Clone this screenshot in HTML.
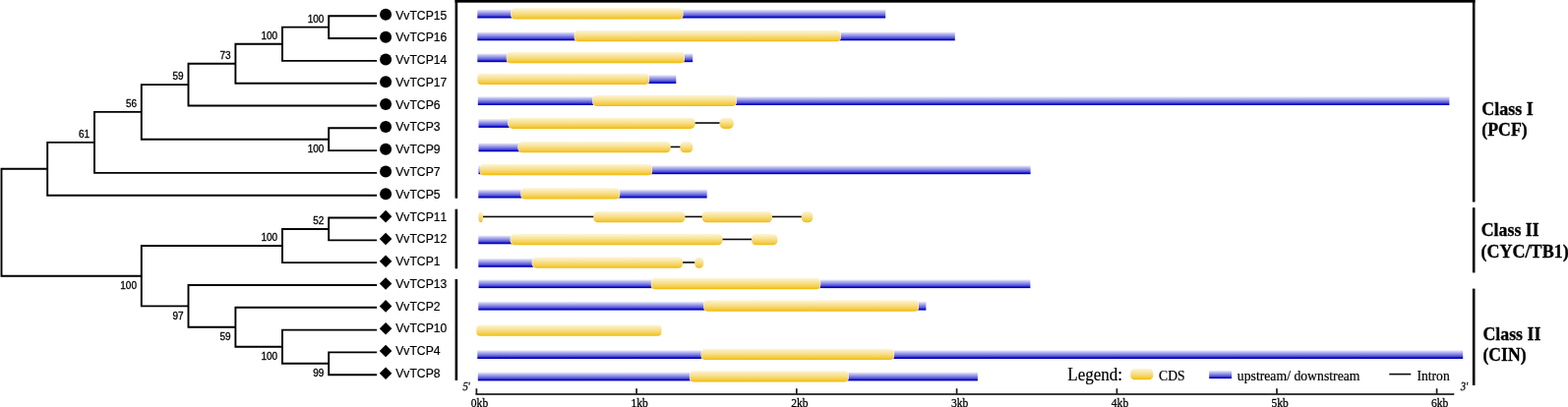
<!DOCTYPE html>
<html lang="en"><head><meta charset="utf-8"><title>VvTCP phylogeny and gene structure</title>
<style>
html,body{margin:0;padding:0;background:#fff;}
body{width:1594px;height:414px;overflow:hidden;}
svg{display:block;}
.tr{stroke:#000;stroke-width:1.9;fill:none;stroke-linecap:square;}
.bs{font-family:"Liberation Sans","DejaVu Sans",sans-serif;font-size:10px;fill:#000;text-anchor:end;stroke:#000;stroke-width:0.3px;}
.lf{font-family:"Liberation Sans","DejaVu Sans",sans-serif;font-size:12.2px;fill:#000;stroke:#000;stroke-width:0.18px;font-kerning:none;}
.cl{font-family:"Liberation Serif","DejaVu Serif",serif;font-size:17.5px;font-weight:bold;fill:#000;stroke:#000;stroke-width:0.3px;}
.ax{font-family:"Liberation Serif","DejaVu Serif",serif;font-size:11.6px;fill:#000;stroke:#000;stroke-width:0.25px;}
.lg{font-family:"Liberation Serif","DejaVu Serif",serif;font-size:13.6px;fill:#000;stroke:#000;stroke-width:0.2px;}
.lgt{font-family:"Liberation Serif","DejaVu Serif",serif;font-size:17px;fill:#000;stroke:#000;stroke-width:0.2px;}
</style></head><body>
<svg width="1594" height="414" viewBox="0 0 1594 414">
<defs>
<linearGradient id="gb" x1="0" y1="0" x2="0" y2="1"><stop offset="0" stop-color="#eeeefc"/><stop offset="0.25" stop-color="#b6b6ef"/><stop offset="0.5" stop-color="#8282e3"/><stop offset="0.75" stop-color="#4646d5"/><stop offset="0.86" stop-color="#0a0ac4"/><stop offset="0.93" stop-color="#0000bc"/><stop offset="1" stop-color="#0000bc"/></linearGradient>
<linearGradient id="gc" x1="0" y1="0" x2="0" y2="1"><stop offset="0" stop-color="#fdf5d6"/><stop offset="0.5" stop-color="#f7dd84"/><stop offset="0.8" stop-color="#f4cc44"/><stop offset="0.93" stop-color="#f2c01c"/><stop offset="1" stop-color="#f0ba0c"/></linearGradient>
</defs>
<rect x="0" y="0" width="1594" height="414" fill="#fff"/>
<g class="tr">
<path d="M334.2 16.25L382.2 16.25M334.2 39.06L382.2 39.06M334.2 16.25L334.2 39.06M287 27.66L334.2 27.66M287 61.87L382.2 61.87M287 27.66L287 61.87M239.4 44.76L287 44.76M239.4 84.68L382.2 84.68M239.4 44.76L239.4 84.68M191.5 64.72L239.4 64.72M191.5 107.49L382.2 107.49M191.5 64.72L191.5 107.49M334.2 130.3L382.2 130.3M334.2 153.11L382.2 153.11M334.2 130.3L334.2 153.11M143.8 141.7L334.2 141.7M143.8 86.11L191.5 86.11M143.8 86.11L143.8 141.7M96 113.91L143.8 113.91M96 175.92L382.2 175.92M96 113.91L96 175.92M48.2 144.91L96 144.91M48.2 198.73L382.2 198.73M48.2 144.91L48.2 198.73M1.5 171.82L48.2 171.82M334.2 221.54L382.2 221.54M334.2 244.35L382.2 244.35M334.2 221.54L334.2 244.35M287 232.94L334.2 232.94M287 267.16L382.2 267.16M287 232.94L287 267.16M334.2 358.4L382.2 358.4M334.2 381.21L382.2 381.21M334.2 358.4L334.2 381.21M287 369.8L334.2 369.8M287 335.59L382.2 335.59M287 335.59L287 369.8M239.4 352.7L287 352.7M239.4 312.78L382.2 312.78M239.4 312.78L239.4 352.7M191.5 332.74L239.4 332.74M191.5 289.97L382.2 289.97M191.5 289.97L191.5 332.74M143.8 250.05L287 250.05M143.8 311.35L191.5 311.35M143.8 250.05L143.8 311.35M1.5 280.7L143.8 280.7M1.5 171.82L1.5 280.7"/>
</g>
<g fill="#000">
<circle cx="392.1" cy="14.85" r="6"/>
<circle cx="392.1" cy="37.66" r="6"/>
<circle cx="392.1" cy="60.47" r="6"/>
<circle cx="392.1" cy="83.28" r="6"/>
<circle cx="392.1" cy="106.09" r="6"/>
<circle cx="392.1" cy="128.9" r="6"/>
<circle cx="392.1" cy="151.71" r="6"/>
<circle cx="392.1" cy="174.52" r="6"/>
<circle cx="392.1" cy="197.33" r="6"/>
<path d="M385.8 220.14L392.1 213.84L398.4 220.14L392.1 226.44Z"/>
<path d="M385.8 242.95L392.1 236.65L398.4 242.95L392.1 249.25Z"/>
<path d="M385.8 265.76L392.1 259.46L398.4 265.76L392.1 272.06Z"/>
<path d="M385.8 288.57L392.1 282.27L398.4 288.57L392.1 294.87Z"/>
<path d="M385.8 311.38L392.1 305.08L398.4 311.38L392.1 317.68Z"/>
<path d="M385.8 334.19L392.1 327.89L398.4 334.19L392.1 340.49Z"/>
<path d="M385.8 357L392.1 350.7L398.4 357L392.1 363.3Z"/>
<path d="M385.8 379.81L392.1 373.51L398.4 379.81L392.1 386.11Z"/>
</g>
<g class="lf">
<text x="402.2" y="19.65">VvTCP15</text>
<text x="402.2" y="42.41">VvTCP16</text>
<text x="402.2" y="65.18">VvTCP14</text>
<text x="402.2" y="87.94">VvTCP17</text>
<text x="402.2" y="110.71">VvTCP6</text>
<text x="402.2" y="133.47">VvTCP3</text>
<text x="402.2" y="156.24">VvTCP9</text>
<text x="402.2" y="179.01">VvTCP7</text>
<text x="402.2" y="201.77">VvTCP5</text>
<text x="402.2" y="224.53">VvTCP11</text>
<text x="402.2" y="247.3">VvTCP12</text>
<text x="402.2" y="270.06">VvTCP1</text>
<text x="402.2" y="292.83">VvTCP13</text>
<text x="402.2" y="315.59">VvTCP2</text>
<text x="402.2" y="338.36">VvTCP10</text>
<text x="402.2" y="361.12">VvTCP4</text>
<text x="402.2" y="383.89">VvTCP8</text>
</g>
<g class="bs">
<text x="329.4" y="22.55">100</text>
<text x="282.2" y="39.66">100</text>
<text x="234.6" y="59.62">73</text>
<text x="186.7" y="81.01">59</text>
<text x="139" y="108.81">56</text>
<text x="91.2" y="139.81">61</text>
<text x="329.4" y="155.2">100</text>
<text x="329.4" y="227.84">52</text>
<text x="282.2" y="244.95">100</text>
<text x="139" y="294.2">100</text>
<text x="186.7" y="324.85">97</text>
<text x="234.6" y="346.24">59</text>
<text x="282.2" y="366.2">100</text>
<text x="329.4" y="383.3">99</text>
</g>
<g fill="#000">
<rect x="462.6" y="0" width="1036.8" height="2.65"/>
<rect x="462.6" y="0" width="2.6" height="201.7"/>
<rect x="1496.9" y="0" width="2.6" height="205.5"/>
<rect x="462.6" y="212.7" width="2.6" height="60.6"/>
<rect x="1496.9" y="211.2" width="2.6" height="66.2"/>
<rect x="462.6" y="283.9" width="2.6" height="103"/>
<rect x="1496.9" y="293.6" width="2.6" height="98.3"/>
</g>
<rect x="485.3" y="9.7" width="414.9" height="8.8" fill="url(#gb)"/>
<rect x="519.3" y="8.25" width="175.2" height="11.3" rx="4" ry="4" fill="#fff"/>
<rect x="519.7" y="8.25" width="174.4" height="11.3" rx="4" ry="4" fill="url(#gc)"/>
<rect x="485.3" y="32.5" width="485.5" height="8.8" fill="url(#gb)"/>
<rect x="583.7" y="31.05" width="271.1" height="11.3" rx="4" ry="4" fill="#fff"/>
<rect x="584.1" y="31.05" width="270.3" height="11.3" rx="4" ry="4" fill="url(#gc)"/>
<rect x="485.3" y="54.4" width="218.9" height="8.8" fill="url(#gb)"/>
<rect x="514.8" y="52.95" width="181.2" height="11.3" rx="4" ry="4" fill="#fff"/>
<rect x="515.2" y="52.95" width="180.4" height="11.3" rx="4" ry="4" fill="url(#gc)"/>
<rect x="600" y="76.2" width="87.3" height="8.8" fill="url(#gb)"/>
<rect x="484.9" y="74.75" width="175.2" height="11.3" rx="4" ry="4" fill="#fff"/>
<rect x="485.3" y="74.75" width="174.4" height="11.3" rx="4" ry="4" fill="url(#gc)"/>
<rect x="485.8" y="98.2" width="987.6" height="8.8" fill="url(#gb)"/>
<rect x="602.3" y="96.75" width="146.5" height="11.3" rx="4" ry="4" fill="#fff"/>
<rect x="602.7" y="96.75" width="145.7" height="11.3" rx="4" ry="4" fill="url(#gc)"/>
<rect x="486.5" y="121.1" width="33.5" height="8.8" fill="url(#gb)"/>
<rect x="516.3" y="119.65" width="190.8" height="11.3" rx="4.6" ry="4.6" fill="#fff"/>
<rect x="731.1" y="119.65" width="15" height="11.3" rx="4.6" ry="4.6" fill="#fff"/>
<rect x="700" y="124.25" width="35" height="1.6" fill="#0a0a0a"/>
<rect x="516.7" y="119.65" width="190" height="11.3" rx="4.6" ry="4.6" fill="url(#gc)"/>
<rect x="731.5" y="119.65" width="14.2" height="11.3" rx="4.6" ry="4.6" fill="url(#gc)"/>
<rect x="486.5" y="145.5" width="43.5" height="8.8" fill="url(#gb)"/>
<rect x="526.4" y="144.05" width="155.8" height="11.3" rx="4.6" ry="4.6" fill="#fff"/>
<rect x="690.9" y="144.05" width="13.8" height="11.3" rx="4.6" ry="4.6" fill="#fff"/>
<rect x="675" y="148.65" width="20" height="1.6" fill="#0a0a0a"/>
<rect x="526.8" y="144.05" width="155" height="11.3" rx="4.6" ry="4.6" fill="url(#gc)"/>
<rect x="691.3" y="144.05" width="13" height="11.3" rx="4.6" ry="4.6" fill="url(#gc)"/>
<rect x="486.5" y="168.4" width="561.1" height="8.8" fill="url(#gb)"/>
<rect x="487.6" y="166.95" width="175.5" height="11.3" rx="4" ry="4" fill="#fff"/>
<rect x="488" y="166.95" width="174.7" height="11.3" rx="4" ry="4" fill="url(#gc)"/>
<rect x="486.3" y="192.7" width="232.4" height="8.8" fill="url(#gb)"/>
<rect x="529.4" y="191.25" width="100.8" height="11.3" rx="4" ry="4" fill="#fff"/>
<rect x="529.8" y="191.25" width="100" height="11.3" rx="4" ry="4" fill="url(#gc)"/>
<rect x="489" y="219.65" width="329" height="1.6" fill="#0a0a0a"/>
<rect x="486.3" y="215.05" width="4.8" height="11.3" rx="2.4" ry="5.65" fill="url(#gc)"/>
<rect x="603.2" y="215.05" width="93.2" height="11.3" rx="4.6" ry="4.6" fill="url(#gc)"/>
<rect x="713.7" y="215.05" width="71.3" height="11.3" rx="4.6" ry="4.6" fill="url(#gc)"/>
<rect x="814.7" y="215.05" width="11.6" height="11.3" rx="4.6" ry="4.6" fill="url(#gc)"/>
<rect x="486.3" y="239.5" width="35.7" height="8.8" fill="url(#gb)"/>
<rect x="518.6" y="238.05" width="216.4" height="11.3" rx="4.6" ry="4.6" fill="#fff"/>
<rect x="763.6" y="238.05" width="27.2" height="11.3" rx="4.6" ry="4.6" fill="#fff"/>
<rect x="730" y="242.65" width="38" height="1.6" fill="#0a0a0a"/>
<rect x="519" y="238.05" width="215.6" height="11.3" rx="4.6" ry="4.6" fill="url(#gc)"/>
<rect x="764" y="238.05" width="26.4" height="11.3" rx="4.6" ry="4.6" fill="url(#gc)"/>
<rect x="486.3" y="263" width="58.7" height="8.8" fill="url(#gb)"/>
<rect x="540.7" y="261.55" width="153.8" height="11.3" rx="4.6" ry="4.6" fill="#fff"/>
<rect x="705.8" y="261.55" width="9.8" height="11.3" rx="4.5" ry="4.6" fill="#fff"/>
<rect x="690" y="266.15" width="20" height="1.6" fill="#0a0a0a"/>
<rect x="541.1" y="261.55" width="153" height="11.3" rx="4.6" ry="4.6" fill="url(#gc)"/>
<rect x="706.2" y="261.55" width="9" height="11.3" rx="4.5" ry="4.7" fill="url(#gc)"/>
<rect x="486.6" y="284.3" width="560.8" height="8.8" fill="url(#gb)"/>
<rect x="661.8" y="282.85" width="172.4" height="11.3" rx="4" ry="4" fill="#fff"/>
<rect x="662.2" y="282.85" width="171.6" height="11.3" rx="4" ry="4" fill="url(#gc)"/>
<rect x="486.3" y="306.8" width="455.1" height="8.8" fill="url(#gb)"/>
<rect x="715.3" y="305.35" width="218.7" height="11.3" rx="4" ry="4" fill="#fff"/>
<rect x="715.7" y="305.35" width="217.9" height="11.3" rx="4" ry="4" fill="url(#gc)"/>
<rect x="484.3" y="330.55" width="188.2" height="11.3" rx="4" ry="4" fill="url(#gc)"/>
<rect x="485.3" y="356.2" width="1001.9" height="8.8" fill="url(#gb)"/>
<rect x="712.6" y="354.75" width="196.5" height="11.3" rx="4" ry="4" fill="#fff"/>
<rect x="713" y="354.75" width="195.7" height="11.3" rx="4" ry="4" fill="url(#gc)"/>
<rect x="485.8" y="378.6" width="508.1" height="8.8" fill="url(#gb)"/>
<rect x="700.9" y="377.15" width="161.8" height="11.3" rx="4" ry="4" fill="#fff"/>
<rect x="701.3" y="377.15" width="161" height="11.3" rx="4" ry="4" fill="url(#gc)"/>
<g fill="#1a1a1a">
<rect x="483.5" y="400.15" width="994.8" height="1.7"/>
<rect x="483.55" y="395.2" width="1.7" height="5.8"/>
<rect x="646.25" y="395.2" width="1.7" height="5.8"/>
<rect x="808.95" y="395.2" width="1.7" height="5.8"/>
<rect x="971.75" y="395.2" width="1.7" height="5.8"/>
<rect x="1134.55" y="395.2" width="1.7" height="5.8"/>
<rect x="1297.15" y="395.2" width="1.7" height="5.8"/>
<rect x="1459.75" y="395.2" width="1.7" height="5.8"/>
</g>
<g class="ax">
<text transform="translate(478.8 413.6) scale(1 1.04)">0kb</text>
<text transform="translate(641.5 413.6) scale(1 1.04)">1kb</text>
<text transform="translate(804.2 413.6) scale(1 1.04)">2kb</text>
<text transform="translate(967 413.6) scale(1 1.04)">3kb</text>
<text transform="translate(1129.8 413.6) scale(1 1.04)">4kb</text>
<text transform="translate(1292.4 413.6) scale(1 1.04)">5kb</text>
<text transform="translate(1455 413.6) scale(1 1.04)">6kb</text>
<text transform="translate(469.9 396.9) scale(0.92 1.07) skewX(-9)">5'</text>
<text transform="translate(1484.3 396.5) scale(0.92 1.07) skewX(-9)">3'</text>
</g>
<text class="lgt" transform="translate(1085.3 386.7) scale(1 1.05)">Legend:</text>
<rect x="1149.2" y="375" width="23.1" height="11.3" rx="4.4" ry="4.4" fill="url(#gc)"/>
<text class="lg" transform="translate(1178.1 387.3) scale(1 1.14)">CDS</text>
<rect x="1229.2" y="376.9" width="22.9" height="8.2" fill="url(#gb)"/>
<text class="lg" transform="translate(1257.8 386.8) scale(1.01 1.04)">upstream/ downstream</text>
<rect x="1412.3" y="379.8" width="22" height="1.6" fill="#0a0a0a"/>
<text class="lg" transform="translate(1440.5 386.8) scale(1 1.04)">Intron</text>
<g class="cl">
<text transform="translate(1506.2 116.6) scale(1.03 1.07)">Class I</text>
<text transform="translate(1506.2 137.6) scale(1.02 1.05)">(PCF)</text>
<text transform="translate(1505.7 240.4) scale(1.02 1.07)">Class II</text>
<text transform="translate(1505.6 261.8) scale(1.03 1.05)">(CYC/TB1)</text>
<text transform="translate(1507.4 346) scale(1.02 1.05)">Class II</text>
<text transform="translate(1507.4 367.4) scale(1.01 1.04)">(CIN)</text>
</g>
</svg>
</body></html>
